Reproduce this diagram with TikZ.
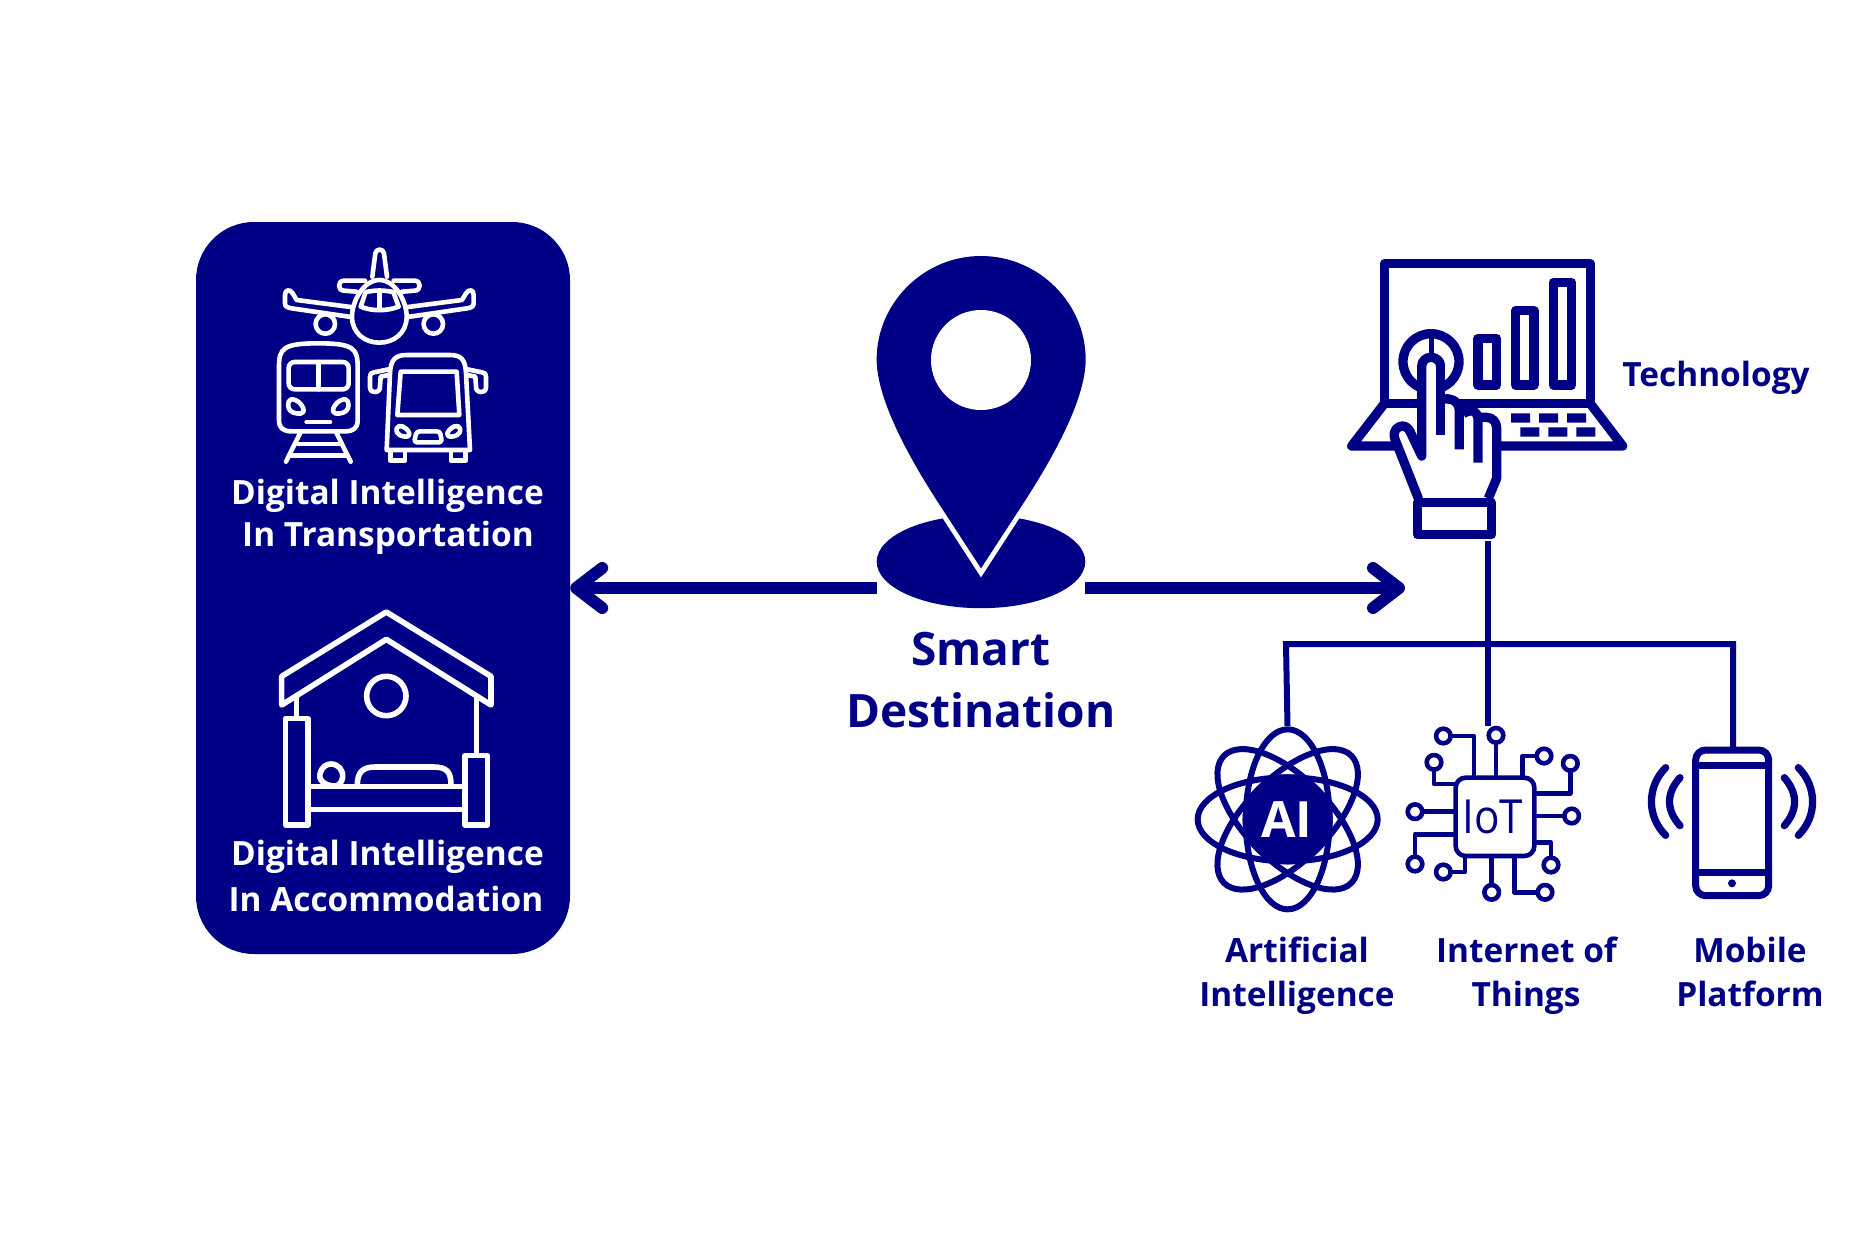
\documentclass[tikz,border=0pt]{standalone}
\usepackage{fontspec}
\setmainfont{Open Sans}
\usetikzlibrary{arrows.meta,shapes.geometric}
\definecolor{navyb}{RGB}{0,0,135}
\tikzset{
  zoomA/.style={x=0.33333pt,y=-0.33333pt},
  wline/.style={draw=white,line width=4.6pt,line cap=round,line join=round},
  wfill/.style={wline,fill=navyb},
  hline/.style={draw=white,line width=5.6pt,line join=round},
  nline/.style={draw=navyb,line width=4.6pt,line cap=round,line join=round},
  tline/.style={draw=navyb,line width=9.3pt,line join=round},
  lbl/.style={anchor=base,inner sep=0pt,text=navyb,font=\fontsize{33.4}{33.4}\selectfont\bfseries},
  wlbl/.style={lbl,text=white},
  biglbl/.style={lbl,font=\fontsize{46}{46}\selectfont\bfseries},
  bigarrow/.style={draw=navyb,line width=12pt,-{Straight Barb[length=26pt,width=40pt,round]}},
  treeline/.style={draw=navyb,line width=6pt},
  panelbox/.style={fill=navyb,rounded corners=58pt,minimum width=374pt,minimum height=732pt,inner sep=0pt},
  pinbasebox/.style={ellipse,fill=navyb,minimum width=208.6pt,minimum height=93pt,inner sep=0pt},
  wave/.style={draw=navyb,line width=7.3pt,line cap=round}
}
\begin{document}
\begin{tikzpicture}[x=1pt,y=-1pt]
\useasboundingbox (0,0) rectangle (1875,1250);
\fill[white] (0,0) rectangle (1875,1250);

% panel
\node[panelbox] (panel) at (383,588) {};

% ---------- transport icons
\begin{scope}[shift={(190pt,-220pt)},zoomA]
  % plane
  \draw[wline] (547,170) -- (556,100) .. controls (558,85) and (580,85) .. (582,100) -- (591,170);
  \draw[wline] (525,182) -- (462,182) .. controls (442,182) and (442,212) .. (462,212) -- (500,215);
  \draw[wline] (611,182) -- (674,182) .. controls (694,182) and (694,212) .. (674,212) -- (636,215);
  \draw[wline] (406,312) circle[radius=9.7pt];
  \draw[wline] (730,312) circle[radius=9.7pt];
  \filldraw[wfill] (490,262) -- (320,240) -- (308,220) .. controls (298,205) and (285,210) .. (285,225) -- (285,250) .. controls (285,260) and (292,263) .. (305,265) -- (490,292) -- cycle;
  \filldraw[wfill] (646,262) -- (816,240) -- (828,220) .. controls (838,205) and (851,210) .. (851,225) -- (851,250) .. controls (851,260) and (844,263) .. (831,265) -- (646,292) -- cycle;
  \filldraw[wfill] (568,180) .. controls (520,180) and (486,245) .. (486,290) .. controls (486,340) and (525,368) .. (568,368) .. controls (611,368) and (650,340) .. (650,290) .. controls (650,245) and (616,180) .. (568,180) -- cycle;
  \draw[wline] (512,260) -- (527,216) .. controls (560,210) and (576,210) .. (610,216) -- (626,260) .. controls (590,274) and (546,274) .. (512,260) -- cycle;
  \draw[wline] (568,216) -- (568,270);
  % train
  \draw[wline] (267,440) .. controls (267,385) and (280,370) .. (385,370) .. controls (490,370) and (503,385) .. (503,440) -- (503,600) .. controls (503,625) and (490,634) .. (465,634) -- (305,634) .. controls (280,634) and (267,625) .. (267,600) -- cycle;
  \draw[wline,rounded corners=6pt] (296,426) rectangle (476,508);
  \draw[wline] (386,426) -- (386,508);
  \draw[wline] (296,545) .. controls (300,530) and (330,540) .. (340,565) .. controls (345,585) and (325,582) .. (310,578) .. controls (296,572) and (292,560) .. (296,545) -- cycle;
  \draw[wline] (474,545) .. controls (470,530) and (440,540) .. (430,565) .. controls (425,585) and (445,582) .. (460,578) .. controls (474,572) and (478,560) .. (474,545) -- cycle;
  \draw[wline] (350,606) -- (420,606);
  \draw[wline] (332,636) -- (288,725);
  \draw[wline] (438,636) -- (482,725);
  \draw[wline] (318,672) -- (452,672);
  \draw[wline] (300,707) -- (470,707);
  % bus
  \draw[wline] (590,690) -- (600,460) .. controls (602,420) and (615,405) .. (650,405) -- (780,405) .. controls (815,405) and (826,420) .. (828,460) -- (840,690) -- cycle;
  \draw[wline] (632,455) -- (800,455) -- (808,585) -- (622,585) -- cycle;
  \draw[wline] (596,448) -- (552,457) .. controls (543,458) and (540,462) .. (540,470) -- (540,502) .. controls (540,513) and (548,516) .. (554,516) .. controls (565,516) and (570,510) .. (570,500) -- (572,470) -- (596,465);
  \draw[wline] (832,448) -- (876,457) .. controls (885,458) and (888,462) .. (888,470) -- (888,502) .. controls (888,513) and (880,516) .. (874,516) .. controls (863,516) and (858,510) .. (858,500) -- (856,470) -- (832,465);
  \draw[wline] (620,625) .. controls (625,610) and (650,620) .. (658,640) .. controls (660,655) and (640,650) .. (630,646) .. controls (622,642) and (618,635) .. (620,625) -- cycle;
  \draw[wline] (810,625) .. controls (805,610) and (780,620) .. (772,640) .. controls (770,655) and (790,650) .. (800,646) .. controls (808,642) and (812,635) .. (810,625) -- cycle;
  \draw[wline,rounded corners=3pt] (680,634) -- (750,634) -- (756,667) -- (672,667) -- cycle;
  \draw[wline] (602,697) -- (602,722) -- (645,722) -- (645,697);
  \draw[wline] (783,697) -- (783,722) -- (826,722) -- (826,697);
\end{scope}

% ---------- hotel icon
\begin{scope}[shift={(190pt,-590pt)},zoomA]
  \draw[hline] (589,66) -- (903,259) -- (903,345) -- (589,148) -- (275,345) -- (275,259) -- cycle;
  \draw[hline] (320,322) -- (320,386);
  \draw[hline] (860,322) -- (860,497);
  \draw[hline] (589,318) circle[radius=19.7pt];
  \draw[hline] (287,386) rectangle (354,705);
  \draw[hline] (825,497) rectangle (892,705);
  \draw[hline] (354,590) -- (825,590);
  \draw[hline] (354,658) -- (825,658);
  \draw[hline] (440,588) .. controls (395,590) and (385,560) .. (390,552) .. controls (395,530) and (410,522) .. (423,522) .. controls (445,522) and (460,540) .. (458,562) .. controls (456,575) and (450,582) .. (440,588);
  \draw[hline] (502,585) .. controls (502,545) and (520,531) .. (555,531) -- (730,531) .. controls (770,531) and (783,545) .. (783,585);
\end{scope}

% ---------- panel labels
\node[wlbl] (t1a) at (387.5,504) {Digital Intelligence};
\node[wlbl] (t1b) at (388,546) {In Transportation};
\node[wlbl] (t2a) at (387.5,865) {Digital Intelligence};
\node[wlbl] (t2b) at (386,911) {In Accommodation};

% ---------- pin
\node[pinbasebox] (pinbase) at (981,561.7) {};
\begin{scope}[shift={(860pt,-240pt)},zoomA]
  \fill[white] (232,810) -- (363,1012) -- (494,810) -- cycle;
  \fill[navyb] (363,48) .. controls (190,48) and (50,190) .. (50,358) .. controls (50,480) and (150,660) .. (249,810) -- (363,985) -- (477,810) .. controls (576,660) and (677,480) .. (677,358) .. controls (677,190) and (536,48) .. (363,48) -- cycle;
  \fill[white] (363,360) circle[radius=50pt];
\end{scope}
\node[biglbl] (smart) at (981,665.5) {Smart};
\node[biglbl] (dest) at (981,727.5) {Destination};

% ---------- arrows
\coordinate (pinL) at (877,588);
\coordinate (pinR) at (1085,588);
\coordinate (techIn) at (1405,588);
\draw[bigarrow] (pinL) -- (panel.east);
\draw[bigarrow] (pinR) -- (techIn);

% ---------- technology icon
\begin{scope}[shift={(1330pt,-240pt)},zoomA]
  \draw[tline] (163,491) -- (163,71) -- (781,71) -- (781,491) -- cycle;
  \draw[tline] (163,491) -- (65,618) -- (878,618) -- (781,491);
  \draw[tline] (444,295) rectangle (500,435);
  \draw[tline] (557,212) rectangle (612,435);
  \draw[tline] (670,127) rectangle (725,435);
  \draw[tline] (303,365) circle[radius=28pt];
  \draw[navyb,line width=5pt] (303,290) -- (303,345);
  \fill[navyb] (543,520) rectangle (600,548) (627,520) rectangle (684,548) (711,520) rectangle (768,548);
  \fill[navyb] (571,562) rectangle (628,590) (655,562) rectangle (712,590) (739,562) rectangle (796,590);
  % hand
  \fill[white] (265,775) -- (195,598) -- (190,560) -- (245,560) -- (275,600) -- (275,380) -- (303,352) -- (332,380) -- (332,490) -- (388,490) -- (388,520) -- (444,520) -- (444,540) -- (500,540) -- (500,715) -- (475,775) -- cycle;
  \draw[tline,line cap=round] (265,775) -- (195,598) .. controls (185,570) and (205,558) .. (218,558) .. controls (232,558) and (240,572) .. (245,585) -- (275,648);
  \draw[tline,line cap=round] (275,648) -- (275,380) .. controls (275,362) and (288,352) .. (303,352) .. controls (318,352) and (332,362) .. (332,380);
  \draw[tline] (332,380) -- (332,585);
  \draw[tline] (345,476) .. controls (372,476) and (388,490) .. (388,510) -- (388,628);
  \draw[tline] (400,520) .. controls (430,505) and (444,515) .. (444,540) -- (444,668);
  \draw[tline] (444,532) -- (468,532) .. controls (488,532) and (500,545) .. (500,565) -- (500,715) -- (475,775);
  \node[draw=navyb,line width=9.3pt,line join=round,minimum width=74.3pt,minimum height=32.4pt,inner sep=0pt,outer sep=0pt] (cuff) at (373.5,835.5) {};
\end{scope}
\node[lbl] (techlabel) at (1716,386) {Technology};

% ---------- tree connector
\coordinate (techOut) at (1488,541);
\coordinate (treeL) at (1286,644);
\coordinate (treeR) at (1733,644);
\coordinate (aiTop) at (1287.5,726);
\coordinate (iotTop) at (1488,726);
\coordinate (phoneTop) at (1733,747);
\draw[treeline] (techOut) -- (iotTop);
\draw[treeline] (aiTop) -- (treeL) -- (treeR) -- (phoneTop);

% ---------- AI icon
\begin{scope}[shift={(1180pt,-710pt)},zoomA]
  \fill[navyb] (323,328) circle[radius=45pt];
  \foreach \a in {0,45,90,135}{
    \draw[draw=navyb,line width=6pt,rotate around={\a:(323,328)}] (323,328) ellipse[x radius=90pt,y radius=42pt];
  }
  \node[inner sep=0pt,text=white,font=\fontsize{50}{50}\selectfont\bfseries] (ailogo) at (320,330) {AI};
\end{scope}

% ---------- IoT icon
\begin{scope}[shift={(1390pt,-710pt)},zoomA]
  \draw[nline,rounded corners=10pt] (197,203) rectangle (433,438);
  \node[inner sep=0pt,text=navyb,xscale=0.9,font=\fontsize{47}{47}\selectfont] (iotlogo) at (308,322) {IoT};
  \foreach \cx/\cy in {160/78,318/76,462/138,541/160,545/318,483/465,465/547,305/547,160/486,75/462,75/305,132/157}{
    \draw[nline] (\cx,\cy) circle[radius=7.3pt];
  }
  \draw[nline] (252,203) -- (252,78) -- (182,78);
  \draw[nline] (318,198) -- (318,98);
  \draw[nline] (398,198) -- (398,138) -- (440,138);
  \draw[nline] (438,250) -- (541,250) -- (541,182);
  \draw[nline] (438,318) -- (523,318);
  \draw[nline] (438,398) -- (483,398) -- (483,443);
  \draw[nline] (373,443) -- (373,547) -- (443,547);
  \draw[nline] (305,443) -- (305,525);
  \draw[nline] (225,443) -- (225,486) -- (182,486);
  \draw[nline] (192,373) -- (75,373) -- (75,440);
  \draw[nline] (192,305) -- (97,305);
  \draw[nline] (192,222) -- (132,222) -- (132,179);
\end{scope}

% ---------- phone icon
\begin{scope}[shift={(1630pt,-720pt)},zoomA]
  \draw[draw=navyb,line width=7pt,rounded corners=10pt] (197,90) rectangle (416,527);
  \draw[draw=navyb,line width=7pt] (197,135) -- (416,135);
  \draw[draw=navyb,line width=7pt] (197,456) -- (416,456);
  \fill[navyb] (306,490) circle[radius=4pt];
  \draw[wave] (107,143) .. controls (50,200) and (50,290) .. (107,346);
  \draw[wave] (150,173) .. controls (108,220) and (108,270) .. (150,317);
  \draw[wave] (505,143) .. controls (562,200) and (562,290) .. (505,346);
  \draw[wave] (463,173) .. controls (504,220) and (504,270) .. (463,317);
\end{scope}

% ---------- bottom labels
\node[lbl] (l1a) at (1297,962) {Artificial};
\node[lbl] (l1b) at (1297,1006) {Intelligence};
\node[lbl] (l2a) at (1526.5,962) {Internet of};
\node[lbl] (l2b) at (1526,1006) {Things};
\node[lbl] (l3a) at (1750,962) {Mobile};
\node[lbl] (l3b) at (1750,1006) {Platform};
\end{tikzpicture}
\end{document}
